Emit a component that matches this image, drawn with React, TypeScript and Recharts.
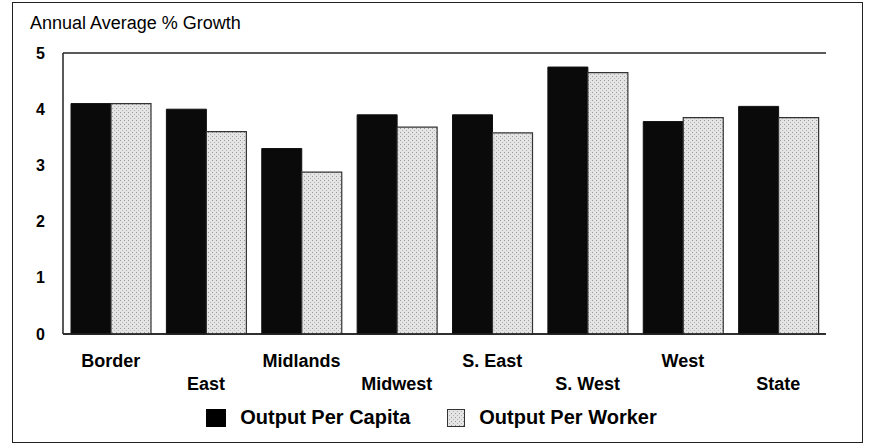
import {
  BarChart,
  Bar,
  XAxis,
  YAxis,
  CartesianGrid,
} from "recharts";

const regions = ["Border", "East", "Midlands", "Midwest", "S. East", "S. West", "West", "State"];
const perCapita = [4.1, 4.0, 3.3, 3.9, 3.9, 4.75, 3.78, 4.05];
const perWorker = [4.1, 3.6, 2.88, 3.68, 3.58, 4.65, 3.85, 3.85];
const yTicks = [0, 1, 2, 3, 4, 5];

const data = regions.map((region, i) => ({
  region,
  capita: perCapita[i],
  worker: perWorker[i],
}));

const FONT = "'Liberation Sans', Arial, Helvetica, sans-serif";

// staggered category labels: even on the first row, odd on the second
function StaggerTick({ x, y, payload, index }: any) {
  const low = index % 2 === 1;
  return (
    <text
      x={x}
      y={y}
      dy={low ? 48 : 25}
      textAnchor="middle"
      style={{ fontSize: 18, fontWeight: 700, fill: "#000", fontFamily: FONT }}
    >
      {payload.value}
    </text>
  );
}

function LegendBox() {
  const item = { display: "flex", alignItems: "center", gap: 14 } as const;
  return (
    <div
      style={{
        position: "absolute",
        left: 0,
        top: 406,
        width: 871,
        display: "flex",
        justifyContent: "center",
        gap: 37,
        fontSize: 20,
        fontWeight: 700,
        color: "#000",
        paddingRight: 8,
        boxSizing: "border-box",
      }}
    >
      <div style={item}>
        <span style={{ width: 20, height: 18, background: "#000", display: "inline-block" }} />
        Output Per Capita
      </div>
      <div style={item}>
        <svg width={18} height={18}>
          <defs>
            <pattern id="stippleKey" width={4} height={4} patternUnits="userSpaceOnUse">
              <rect width={4} height={4} fill="#e4e4e4" />
              <rect x={0} y={0} width={1} height={1} fill="#9a9a9a" />
              <rect x={2} y={2} width={1} height={1} fill="#b5b5b5" />
            </pattern>
          </defs>
          <rect x={0.5} y={0.5} width={17} height={17} fill="url(#stippleKey)" stroke="#333" />
        </svg>
        Output Per Worker
      </div>
    </div>
  );
}

export default function App() {
  return (
    <div
      style={{
        position: "absolute",
        left: 0,
        top: 0,
        width: 871,
        height: 448,
        background: "#fff",
        fontFamily: FONT,
      }}
    >
      {/* outer frame */}
      <div
        style={{
          position: "absolute",
          left: 12,
          top: 2,
          width: 849,
          height: 439,
          border: "1.5px solid #222",
        }}
      />
      <div
        style={{
          position: "absolute",
          left: 30,
          top: 13,
          fontSize: 18,
          color: "#000",
          whiteSpace: "nowrap",
        }}
      >
        Annual Average % Growth
      </div>
      <BarChart
        width={871}
        height={448}
        data={data}
        margin={{ top: 53, right: 45, left: 13, bottom: 54 }}
        barCategoryGap={8}
        barGap={0}
        style={{ position: "absolute", left: 0, top: 0 }}
      >
        <defs>
          <pattern id="stipple" width={4} height={4} patternUnits="userSpaceOnUse">
            <rect width={4} height={4} fill="#e4e4e4" />
            <rect x={0} y={0} width={1} height={1} fill="#9a9a9a" />
            <rect x={2} y={2} width={1} height={1} fill="#b5b5b5" />
          </pattern>
        </defs>
        <CartesianGrid vertical={false} stroke="#222" strokeWidth={1.5} />
        <XAxis
          dataKey="region"
          tick={<StaggerTick />}
          tickLine={false}
          axisLine={{ stroke: "#222", strokeWidth: 1.5 }}
          interval={0}
          height={60}
        />
        <YAxis
          yAxisId="left"
          domain={[0, 5]}
          ticks={yTicks}
          width={50}
          tickLine={false}
          axisLine={{ stroke: "#222", strokeWidth: 1.5 }}
          tickMargin={12}
          tick={{ fontSize: 16, fontWeight: 700, fill: "#000", fontFamily: FONT }}
        />
        <YAxis
          yAxisId="right"
          orientation="right"
          domain={[0, 5]}
          tick={false}
          tickLine={false}
          width={0}
          axisLine={{ stroke: "#222", strokeWidth: 1.5 }}
        />
        <Bar
          yAxisId="left"
          dataKey="capita"
          name="Output Per Capita"
          fill="#0a0a0a"
          stroke="#111"
          isAnimationActive={false}
        />
        <Bar
          yAxisId="left"
          dataKey="worker"
          name="Output Per Worker"
          fill="url(#stipple)"
          stroke="#333"
          strokeWidth={1.2}
          isAnimationActive={false}
        />
      </BarChart>
      <LegendBox />
    </div>
  );
}
